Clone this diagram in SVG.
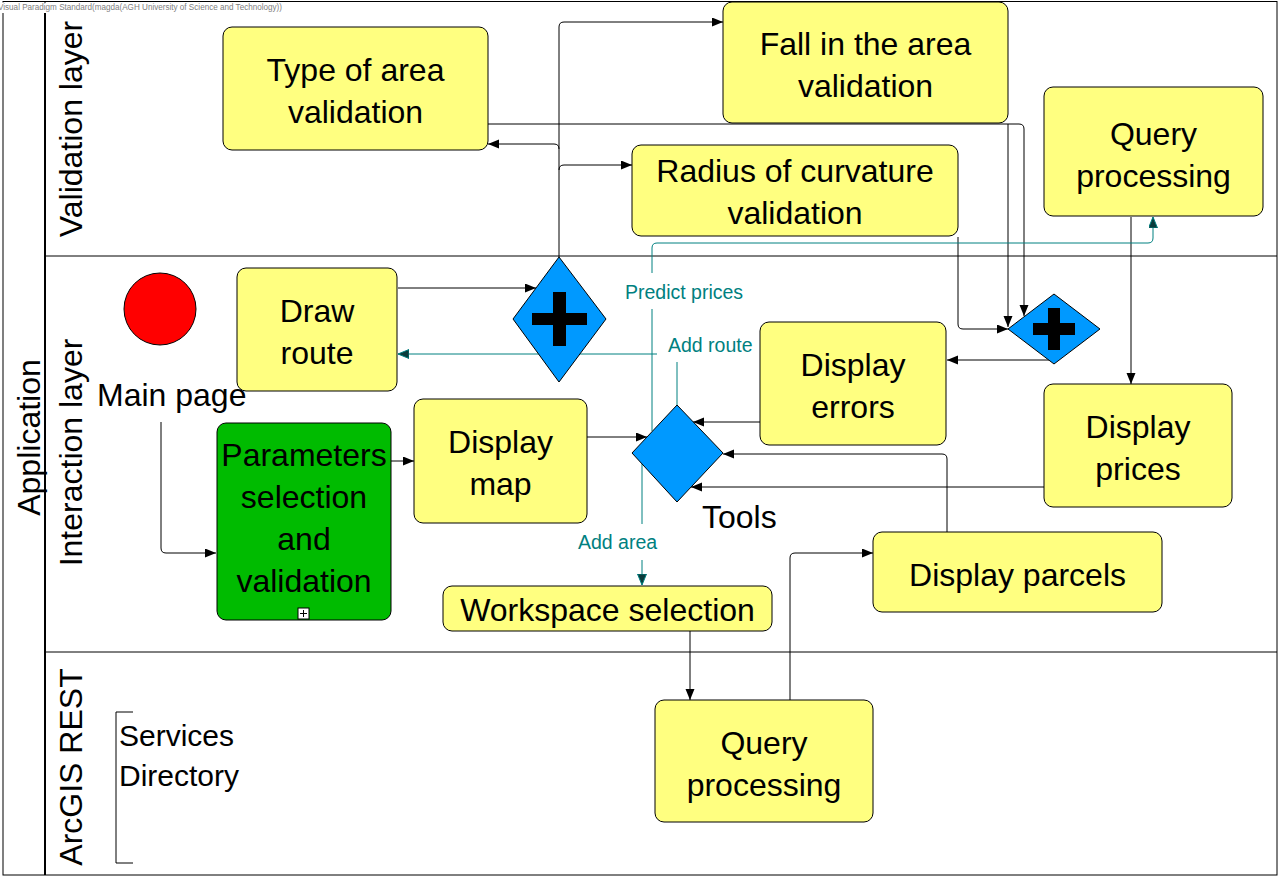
<svg xmlns="http://www.w3.org/2000/svg" width="1281" height="878" viewBox="0 0 1281 878">
<defs>
<style>
text{font-family:"Liberation Sans",Arial,sans-serif;fill:#000}
.task{fill:#FFFF80;stroke:#000;stroke-width:1}
.sub{fill:#00BB00;stroke:#000;stroke-width:1}
.gw{fill:#0099FF;stroke:#000;stroke-width:1}
.t{font-size:32px;text-anchor:middle}
.lane{font-size:32px;text-anchor:middle}
.lbl{font-size:19.5px;fill:#008080}
.c{fill:none;stroke:#000;stroke-width:1}
.ct{fill:none;stroke:#008080;stroke-width:1}
.frame{fill:none;stroke:#000;stroke-width:1}
</style>
<marker id="ah" markerUnits="userSpaceOnUse" markerWidth="12" markerHeight="10" refX="11" refY="4.5" orient="auto">
<path d="M0,0 L11,4.5 L0,9 z" fill="#000"/>
</marker>
<marker id="aht" markerUnits="userSpaceOnUse" markerWidth="12" markerHeight="10" refX="11" refY="4.5" orient="auto">
<path d="M0,0 L11,4.5 L0,9 z" fill="#0b3b3b" stroke="#008080" stroke-width="1"/>
</marker>
</defs>
<rect width="1281" height="878" fill="#fff"/>
<g id="pool">
<rect class="frame" x="3" y="1.5" width="1274" height="873.5"/>
<line x1="45" y1="1.5" x2="45" y2="875" stroke="#000" stroke-width="2"/>
<line class="frame" x1="45" y1="256" x2="1277" y2="256"/>
<line class="frame" x1="45" y1="652" x2="1277" y2="652"/>
<text class="lane" transform="translate(40,437.5) rotate(-90)">Application</text>
<text class="lane" transform="translate(82,129) rotate(-90)">Validation layer</text>
<text class="lane" transform="translate(82,452.5) rotate(-90)">Interaction layer</text>
<text class="lane" transform="translate(82,767) rotate(-90)">ArcGIS REST</text>
</g>
<g id="watermark">
<rect x="0" y="2.5" width="285" height="10.5" fill="#fff"/>
<text x="-2" y="10" font-size="8.5" textLength="284" lengthAdjust="spacingAndGlyphs" style="fill:#808080">Visual Paradigm Standard(magda(AGH University of Science and Technology))</text>
</g>
<g id="connectors">
<path class="c" marker-end="url(#ah)" d="M161,422 V548 Q161,553 166,553 H216"/>
<path class="c" marker-end="url(#ah)" d="M391,461 H414"/>
<path class="c" marker-end="url(#ah)" d="M398,288 H536"/>
<path class="c" marker-end="url(#ah)" d="M559,257 V27 Q559,22 564,22 H723"/>
<path class="c" marker-end="url(#ah)" d="M559,149 Q559,144 554,144 H488"/>
<path class="c" marker-end="url(#ah)" d="M559,170 Q559,165 564,165 H632"/>
<path class="c" marker-end="url(#ah)" d="M488,124 H1019 Q1024,124 1024,129 V316"/>
<path class="c" marker-end="url(#ah)" d="M1008,124 V327"/>
<path class="c" marker-end="url(#ah)" d="M958,237 V324 Q958,329 963,329 H1008"/>
<path class="c" marker-end="url(#ah)" d="M1049,360 H947"/>
<path class="c" marker-end="url(#ah)" d="M1131,217 V384"/>
<path class="c" marker-end="url(#ah)" d="M760,422 H693"/>
<path class="c" marker-end="url(#ah)" d="M1044,487 H691"/>
<path class="c" marker-end="url(#ah)" d="M947,532 V459 Q947,454 942,454 H723"/>
<path class="c" marker-end="url(#ah)" d="M587,437 H647"/>
<path class="c" marker-end="url(#ah)" d="M690,631 V700"/>
<path class="c" marker-end="url(#ah)" d="M790,700 V558 Q790,553 795,553 H873"/>
<path class="ct" marker-end="url(#aht)" d="M642,464 V524 M642,560 V585"/>
<path class="ct" marker-end="url(#aht)" d="M677,405 V362 M657,354 H398"/>
<path class="ct" marker-end="url(#aht)" d="M652,431 V309 M652,273 V248 Q652,243 657,243 H1148 Q1153,243 1153,238 V217"/>
<text class="lbl" x="625" y="299">Predict prices</text>
<text class="lbl" x="668" y="352">Add route</text>
<text class="lbl" x="578" y="549">Add area</text>
</g>
<g id="start">
<circle cx="160" cy="309" r="36" fill="#FF0000" stroke="#000" stroke-width="1"/>
<text x="97" y="406" font-size="32">Main page</text>
</g>
<g id="type-of-area">
<rect class="task" x="223" y="27" width="265" height="123" rx="9"/>
<text class="t" x="355.5" y="81">Type of area</text>
<text class="t" x="355.5" y="123">validation</text>
</g>
<g id="fall-in-area">
<rect class="task" x="723" y="2" width="285" height="121" rx="9"/>
<text class="t" x="865.5" y="55">Fall in the area</text>
<text class="t" x="865.5" y="97">validation</text>
</g>
<g id="radius">
<rect class="task" x="632" y="145" width="326" height="91" rx="9"/>
<text class="t" x="795" y="182">Radius of curvature</text>
<text class="t" x="795" y="224">validation</text>
</g>
<g id="query-top">
<rect class="task" x="1044" y="87" width="219" height="129" rx="9"/>
<text class="t" x="1153.5" y="145">Query</text>
<text class="t" x="1153.5" y="187">processing</text>
</g>
<g id="draw-route">
<rect class="task" x="237" y="268" width="160" height="123" rx="9"/>
<text class="t" x="317" y="322">Draw</text>
<text class="t" x="317" y="364">route</text>
</g>
<g id="gateway-parallel-1">
<polygon class="gw" points="559,257 606,319 559,382 513,319"/>
<rect x="532" y="313" width="55" height="12" fill="#000"/>
<rect x="553" y="292" width="13" height="54" fill="#000"/>
</g>
<g id="parameters">
<rect class="sub" x="217" y="423" width="174" height="197" rx="9"/>
<text class="t" x="304" y="466">Parameters</text>
<text class="t" x="304" y="508">selection</text>
<text class="t" x="304" y="550">and</text>
<text class="t" x="304" y="592">validation</text>
<rect x="298" y="608" width="11" height="11" fill="#fff" stroke="#000" stroke-width="1"/>
<path d="M300,613.5 H307 M303.5,610 V617" stroke="#000" stroke-width="1"/>
</g>
<g id="display-map">
<rect class="task" x="414" y="399" width="173" height="124" rx="9"/>
<text class="t" x="500.5" y="453">Display</text>
<text class="t" x="500.5" y="495">map</text>
</g>
<g id="tools">
<polygon class="gw" points="677,405 723,453 677,502 632,453"/>
<text x="702" y="528" font-size="32">Tools</text>
</g>
<g id="display-errors">
<rect class="task" x="760" y="322" width="186" height="123" rx="9"/>
<text class="t" x="853" y="376">Display</text>
<text class="t" x="853" y="418">errors</text>
</g>
<g id="gateway-parallel-2">
<polygon class="gw" points="1054,294 1100,329 1054,364 1008,329"/>
<rect x="1033" y="323" width="42" height="12" fill="#000"/>
<rect x="1048" y="308" width="12" height="42" fill="#000"/>
</g>
<g id="display-prices">
<rect class="task" x="1044" y="384" width="188" height="123" rx="9"/>
<text class="t" x="1138" y="438">Display</text>
<text class="t" x="1138" y="480">prices</text>
</g>
<g id="display-parcels">
<rect class="task" x="873" y="532" width="289" height="80" rx="9"/>
<text class="t" x="1017.5" y="586">Display parcels</text>
</g>
<g id="workspace-selection">
<rect class="task" x="443" y="586" width="329" height="45" rx="9"/>
<text class="t" x="607.5" y="621">Workspace selection</text>
</g>
<g id="query-bottom">
<rect class="task" x="655" y="700" width="218" height="122" rx="9"/>
<text class="t" x="764" y="754">Query</text>
<text class="t" x="764" y="796">processing</text>
</g>
<g id="services-directory">
<path d="M133,712 H116 V863 H133" fill="none" stroke="#000" stroke-width="1"/>
<text x="119" y="746" font-size="30">Services</text>
<text x="119" y="786" font-size="30">Directory</text>
</g>
</svg>
